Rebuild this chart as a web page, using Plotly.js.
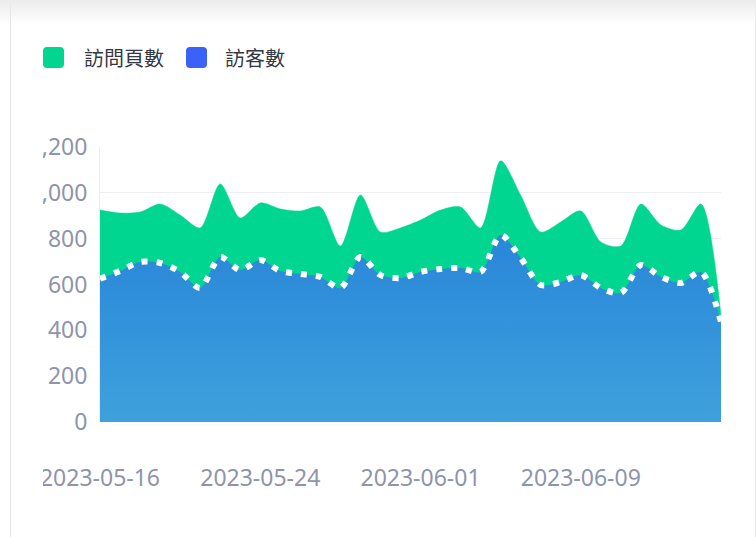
<!DOCTYPE html>
<html>
<head>
<meta charset="utf-8">
<script src="https://cdn.plot.ly/plotly-3.0.1.min.js"></script>
<style>
  html, body { margin: 0; padding: 0; background: #fff; }
  body { width: 756px; height: 537px; position: relative; overflow: hidden; }
  .card {
    position: absolute; left: 10px; top: 0; width: 744px; height: 537px;
    border-left: 1px solid #e3e3e3; border-right: 1px solid #ececec;
  }
  .shade {
    position: absolute; left: 0; top: 0; width: 756px; height: 24px;
    background: linear-gradient(#ebebeb, rgba(255,255,255,0));
  }
  .clip { position: absolute; left: 43px; top: 0; width: 713px; height: 537px; overflow: hidden; }
  #chart { position: absolute; left: -43px; top: 0; width: 756px; height: 537px; }
</style>
</head>
<body>
<div class="card"></div>
<div class="shade"></div>
<div class="clip"><div id="chart"></div></div>
<script>
// dates 2023-05-16 .. 2023-06-16
let dates = [];
for (let d = 16; d <= 31; d++) dates.push('2023-05-' + String(d).padStart(2, '0'));
for (let d = 1; d <= 16; d++) dates.push('2023-06-' + String(d).padStart(2, '0'));

let page_views = [925, 912, 916, 951, 903, 847, 1039, 890, 956, 930, 921, 938, 768, 991, 829, 847,
                  881, 925, 938, 847, 1140, 990, 829, 873, 921, 786, 768, 951, 860, 838, 951, 465];
let visitors = [625, 659, 698, 694, 655, 585, 720, 663, 707, 659, 646, 633, 585, 720, 641, 628,
                655, 668, 672, 655, 816, 716, 598, 611, 641, 585, 563, 685, 633, 607, 655, 436];

let series_names = ['訪問頁數', '訪客數'];
let legend_colors = ['#00d68f', '#3a62f6'];

let trace_views = {
    x: dates,
    y: page_views,
    type: 'scatter',
    mode: 'lines',
    name: series_names[0],
    fill: 'tozeroy',
    fillcolor: '#00d68f',
    line: {color: '#00d68f', width: 0.5, shape: 'spline', smoothing: 0.8},
    hoverinfo: 'skip'
};

let trace_visitors = {
    x: dates,
    y: visitors,
    type: 'scatter',
    mode: 'lines',
    name: series_names[1],
    fill: 'tozeroy',
    fillgradient: {
        type: 'vertical',
        colorscale: [[0, '#3ea1dc'], [1, '#2986d9']]
    },
    line: {color: '#ffffff', width: 6, dash: '6px,9px', shape: 'spline', smoothing: 0.8},
    hoverinfo: 'skip'
};

// custom legend: rounded squares + text
let shapes = [];
let annotations = [];
let legend_x = [43, 186];
let text_x = [82, 223];
function rounded_square(size, r){
    return `M ${r},0 L ${size - r},0 Q ${size},0 ${size},${r} L ${size},${size - r} Q ${size},${size} ${size - r},${size}` +
           ` L ${r},${size} Q 0,${size} 0,${size - r} L 0,${r} Q 0,0 ${r},0 Z`;
}
series_names.forEach((name, i) => {
    shapes.push({
        type: 'path',
        xref: 'paper', yref: 'paper',
        xsizemode: 'pixel', ysizemode: 'pixel',
        xanchor: (legend_x[i] - 100) / 621,
        yanchor: 1 + (147 - 68) / 275,
        path: rounded_square(21, 4),
        fillcolor: legend_colors[i],
        line: {width: 0},
        layer: 'above'
    });
    annotations.push({
        xref: 'paper', yref: 'paper',
        x: (text_x[i] - 100) / 621,
        y: 1 + (147 - 58) / 275,
        xanchor: 'left', yanchor: 'middle',
        text: name,
        showarrow: false,
        font: {family: 'Noto Sans CJK TC, Noto Sans', size: 20, color: '#333842'}
    });
});

let layout = {
    width: 756,
    height: 537,
    margin: {l: 100, r: 35, t: 147, b: 115, pad: 0},
    paper_bgcolor: 'rgba(0,0,0,0)',
    plot_bgcolor: 'rgba(0,0,0,0)',
    showlegend: false,
    font: {family: 'Noto Sans, Open Sans, sans-serif', size: 23, color: '#8e94ab'},
    xaxis: {
        type: 'date',
        range: ['2023-05-16', '2023-06-16'],
        tick0: '2023-05-16',
        dtick: 8 * 86400000,
        tickformat: '%Y-%m-%d',
        showgrid: false,
        zeroline: false,
        showline: false,
        ticks: '',
        ticklabelstandoff: 40,
        tickfont: {size: 23, color: '#8e94ab'}
    },
    yaxis: {
        range: [0, 1200],
        tickvals: [0, 200, 400, 600, 800, 1000, 1200],
        tickformat: ',d',
        showgrid: true,
        gridcolor: '#eceef3',
        gridwidth: 1,
        zeroline: false,
        showline: true,
        linecolor: '#eceef3',
        ticks: '',
        ticklabelstandoff: 7,
        tickfont: {size: 23, color: '#8e94ab'}
    },
    shapes: shapes,
    annotations: annotations
};

Plotly.newPlot('chart', [trace_views, trace_visitors], layout, {displayModeBar: false, staticPlot: true});
</script>
</body>
</html>
